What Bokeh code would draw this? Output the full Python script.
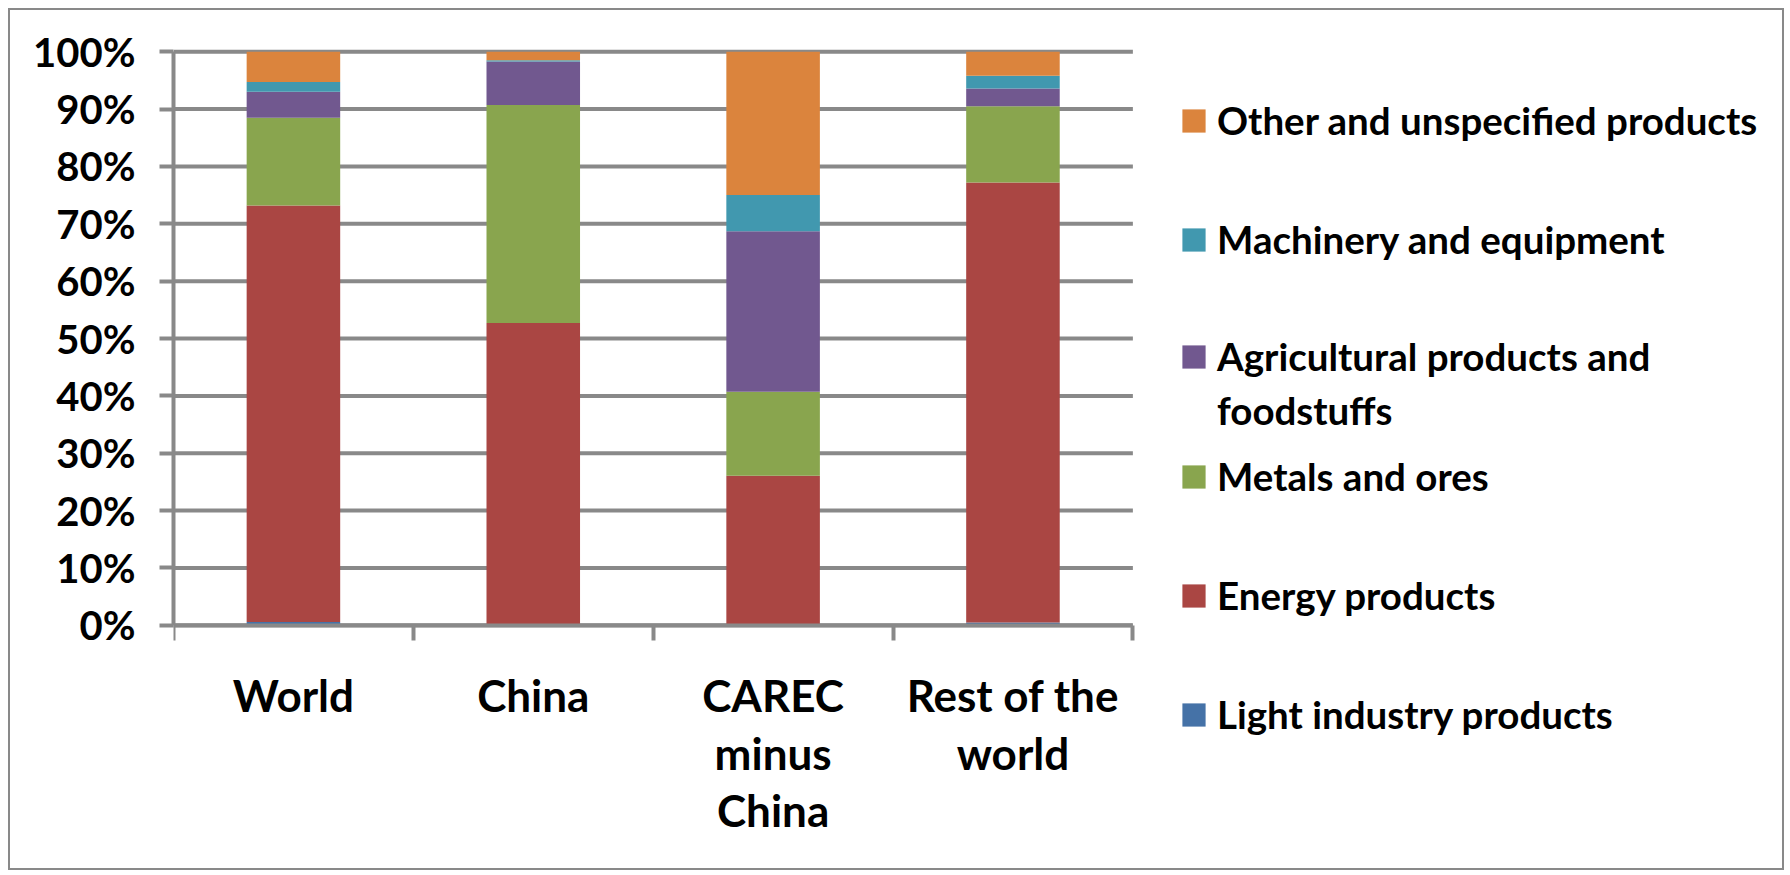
from bokeh.plotting import figure
from bokeh.models import (ColumnDataSource, Range1d, FixedTicker, NumeralTickFormatter,
                          Legend, LegendItem)
from bokeh.embed import file_html
from bokeh.resources import INLINE

# ---------------- data (percent shares) ----------------
categories = ["World", "China", "CAREC minus China", "Rest of the world"]
category_labels = ["World", "China", "CAREC\nminus\nChina", "Rest of the\nworld"]
series = ["Light industry products", "Energy products", "Metals and ores",
          "Agricultural products and foodstuffs", "Machinery and equipment",
          "Other and unspecified products"]
# legend text lines as shown (the agricultural entry wraps onto a second line)
legend_lines = [["Light industry products"], ["Energy products"], ["Metals and ores"],
                ["Agricultural products and", "foodstuffs"], ["Machinery and equipment"],
                ["Other and unspecified products"]]
light_industry = [0.6, 0.2, 0.2, 0.5]
energy = [72.6, 52.5, 25.9, 76.7]
metals = [15.3, 38.0, 14.6, 13.3]
agricultural = [4.5, 7.6, 28.0, 3.1]
machinery = [1.7, 0.2, 6.3, 2.2]
other = [5.3, 1.5, 25.0, 4.2]
y_ticks = [0, 10, 20, 30, 40, 50, 60, 70, 80, 90, 100]
colors = ["#4572A7", "#AA4643", "#89A54E", "#71588F", "#4198AF", "#DB843D"]

values = [light_industry, energy, metals, agricultural, machinery, other]
keys = ["s%d" % i for i in range(len(series))]
data = {"x": [i + 0.5 for i in range(len(categories))], "cat": categories}
for k, v in zip(keys, values):
    data[k] = [a / 100.0 for a in v]
source = ColumnDataSource(data)

GRAY = "#898989"
FONT = "Lato"

# ---------------- layout geometry (canvas pixels) ----------------
W, H = 1776, 862           # outer size incl. 2px CSS border
CW, CH = W - 4, H - 4      # canvas size
AX_LEFT = 163              # y-axis position
AX_RIGHT = 1120            # end of category axis
Y0_PX = 612                # 0% line
Y1_PX = 41                 # 100% line
n = len(categories)
x_end = n * (CW - AX_LEFT) / (AX_RIGHT - AX_LEFT)
unit = Y0_PX - Y1_PX
y_start = -(CH - Y0_PX) / unit
y_end = 1 + Y1_PX / unit

p = figure(width=W, height=H, output_backend="svg", toolbar_location=None,
           x_range=Range1d(0, x_end), y_range=Range1d(y_start, y_end),
           min_border_left=AX_LEFT, min_border_right=0, min_border_top=0,
           min_border_bottom=0)
p.styles = {"border": "2px solid " + GRAY, "margin-left": "8px", "margin-top": "8px"}
p.outline_line_color = None
p.background_fill_color = "white"
p.border_fill_color = "white"
p.xgrid.visible = False
p.ygrid.visible = False

# horizontal gridlines across the category area only
p.segment(x0=[0] * len(y_ticks), x1=[n] * len(y_ticks),
          y0=[t / 100.0 for t in y_ticks], y1=[t / 100.0 for t in y_ticks],
          line_color=GRAY, line_width=4, level="underlay")

renderers = p.vbar_stack(keys, x="x", width=0.39, source=source, color=colors,
                         line_color=None)

# y axis
p.yaxis.bounds = (0, 1)
p.yaxis.ticker = FixedTicker(ticks=[t / 100.0 for t in y_ticks])
p.yaxis.formatter = NumeralTickFormatter(format="0%")
p.yaxis.axis_line_color = GRAY
p.yaxis.axis_line_width = 4
p.yaxis.major_tick_line_color = GRAY
p.yaxis.major_tick_line_width = 4
p.yaxis.major_tick_out = 14
p.yaxis.major_tick_in = 0
p.yaxis.minor_tick_line_color = None
p.yaxis.major_label_standoff = 24
p.yaxis.major_label_text_font = FONT
p.yaxis.major_label_text_font_style = "bold"
p.yaxis.major_label_text_font_size = "40px"
p.yaxis.major_label_text_color = "black"

# x axis drawn at 0%
p.xaxis.fixed_location = 0
p.xaxis.bounds = (0, n)
p.xaxis.ticker = FixedTicker(ticks=[i + 0.5 for i in range(n)],
                             minor_ticks=list(range(n + 1)))
p.xaxis.major_label_overrides = {i + 0.5: lab for i, lab in enumerate(category_labels)}
p.xaxis.axis_line_color = GRAY
p.xaxis.axis_line_width = 4
p.xaxis.major_tick_line_color = None
p.xaxis.major_tick_out = 0
p.xaxis.major_tick_in = 0
p.xaxis.minor_tick_line_color = GRAY
p.xaxis.minor_tick_line_width = 4
p.xaxis.minor_tick_out = 15
p.xaxis.minor_tick_in = 0
p.xaxis.major_label_standoff = 29
p.xaxis.major_label_text_font = FONT
p.xaxis.major_label_text_font_style = "bold"
p.xaxis.major_label_text_font_size = "44px"
p.xaxis.major_label_text_color = "black"
p.xaxis.major_label_text_line_height = 1.1

# ---------------- legend (one block per text line, top to bottom) ----------------
LEG_X = 1006
line_vy = {5: [729], 4: [610], 3: [493, 439], 2: [373], 1: [254], 0: [135]}
for idx in range(len(series) - 1, -1, -1):
    for j, text in enumerate(legend_lines[idx]):
        rends = [renderers[idx]] if j == 0 else []
        leg = Legend(items=[LegendItem(label=text, renderers=rends)],
                     location=(LEG_X, line_vy[idx][j]),
                     glyph_width=29, glyph_height=29, label_standoff=9,
                     label_text_font=FONT, label_text_font_style="bold",
                     label_text_font_size="38.5px", label_text_color="black",
                     border_line_color=None, background_fill_alpha=0,
                     padding=0, margin=0, spacing=0)
        p.add_layout(leg)

open("out.html", "w").write(file_html(p, INLINE))
